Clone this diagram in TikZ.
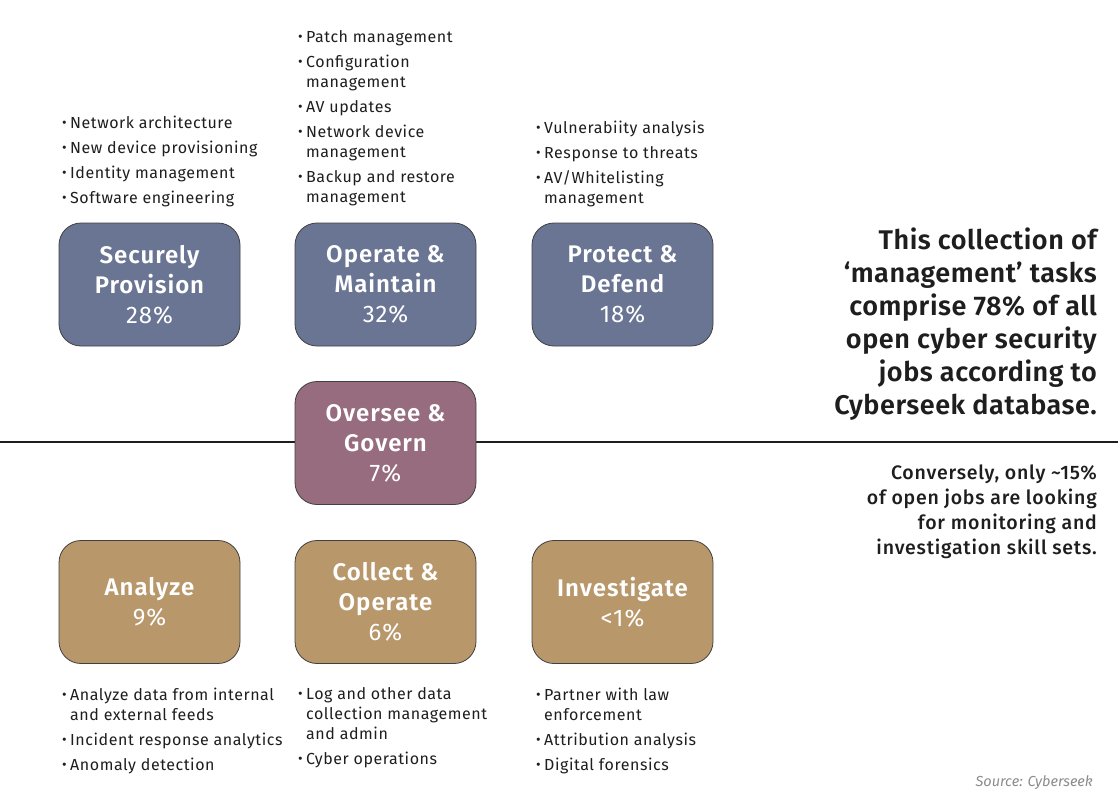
\documentclass[tikz,border=0pt]{standalone}
\usepackage{fontspec}
\setmainfont{Fira Sans}
\newfontfamily\listfont{Fira Sans}[LetterSpace=3.5]
\newfontfamily\titlefont{Fira Sans SemiBold}[LetterSpace=4]
\newfontfamily\pctfont{Fira Sans}[LetterSpace=4]
\newfontfamily\notefont{Fira Sans SemiBold}[LetterSpace=2]
\newfontfamily\notetwofont{Fira Sans Medium}[LetterSpace=4]
\definecolor{boxblue}{RGB}{106,117,148}
\definecolor{boxmauve}{RGB}{150,108,126}
\definecolor{boxtan}{RGB}{184,151,107}
\definecolor{ink}{RGB}{30,30,30}
\definecolor{srcgray}{RGB}{140,140,140}
\newcommand{\bitem}{\makebox[8pt][l]{\raisebox{1pt}{\fontsize{14}{14}\selectfont\textbullet}}}
\newcommand{\bcont}{\hspace*{8pt}}
\newcommand{\ttl}[1]{{\titlefont #1}}
\newcommand{\pct}[1]{{\pctfont #1}}
\tikzset{
  catbox/.style={draw=ink!85, line width=0.8pt, rounded corners=22pt,
    minimum width=181pt, minimum height=123pt, inner sep=0pt,
    text=white, align=center, font=\fontsize{24}{30}\selectfont},
  bullets/.style={anchor=north west, inner sep=0pt, align=left, text=ink,
    font=\fontsize{16}{20}\selectfont\listfont},
}
\begin{document}
\begin{tikzpicture}[x=1pt,y=-1pt]
\useasboundingbox[fill=white] (0,0) rectangle (1118,804);
\draw[ink, line width=2.5pt] (0,442) coordinate (lineL) -- (1118,442) coordinate (lineR);

\node[catbox, fill=boxblue] (sp) at (149.5,284.5) {\ttl{Securely}\\\ttl{Provision}\\\pct{28\%}};
\node[catbox, fill=boxblue] (om) at (385.5,284.5) {\ttl{Operate \&}\\\ttl{Maintain}\\\pct{32\%}};
\node[catbox, fill=boxblue] (pd) at (622.5,284.5) {\ttl{Protect \&}\\\ttl{Defend}\\\pct{18\%}};
\node[catbox, fill=boxmauve] (og) at (385.5,443) {\ttl{Oversee \&}\\\ttl{Govern}\\\pct{7\%}};
\node[catbox, fill=boxtan] (an) at (149.5,602) {\ttl{Analyze}\\\pct{9\%}};
\node[catbox, fill=boxtan] (co) at (385.5,602) {\ttl{Collect \&}\\\ttl{Operate}\\\pct{6\%}};
\node[catbox, fill=boxtan] (iv) at (622.5,602) {\ttl{Investigate}\\\pct{<1\%}};

\node[bullets] (spl) at (62,115.5) {\bitem Network architecture\\[5pt]
\bitem New device provisioning\\[5pt]
\bitem Identity management\\[5pt]
\bitem Software engineering};
\node[bullets] (oml) at (298,30.5) {\bitem Patch management\\[5pt]
\bitem Configuration\\\bcont management\\[5pt]
\bitem AV updates\\[5pt]
\bitem Network device\\\bcont management\\[5pt]
\bitem Backup and restore\\\bcont management};
\node[bullets] (pdl) at (536,120.5) {\bitem Vulnerabiity analysis\\[5pt]
\bitem Response to threats\\[5pt]
\bitem AV/Whitelisting\\\bcont management};
\node[bullets] (anl) at (62,687.5) {\bitem Analyze data from internal\\\bcont and external feeds\\[5pt]
\bitem Incident response analytics\\[5pt]
\bitem Anomaly detection};
\node[bullets] (col) at (298,687.5) {\bitem Log and other data\\\bcont collection management\\\bcont and admin\\[5pt]
\bitem Cyber operations};
\node[bullets] (ivl) at (536,687.5) {\bitem Partner with law\\\bcont enforcement\\[5pt]
\bitem Attribution analysis\\[5pt]
\bitem Digital forensics};

\node[anchor=north east, inner sep=0pt, align=right, text=ink,
  font=\fontsize{27}{33}\selectfont\notefont] (note1) at (1097,228)
  {This collection of\\‘management’ tasks\\comprise 78\% of all\\open cyber security\\jobs according to\\Cyberseek database.};
\node[anchor=north east, inner sep=0pt, align=right, text=ink,
  font=\fontsize{19.5}{24.7}\selectfont\notetwofont] (note2) at (1097,465)
  {Conversely, only \textasciitilde15\%\\of open jobs are looking\\for monitoring and\\investigation skill sets.};
\node[anchor=south east, inner sep=0pt, text=srcgray,
  font=\fontsize{14.5}{16}\selectfont\itshape] (src) at (1093,790) {Source: Cyberseek};
\end{tikzpicture}
\end{document}
